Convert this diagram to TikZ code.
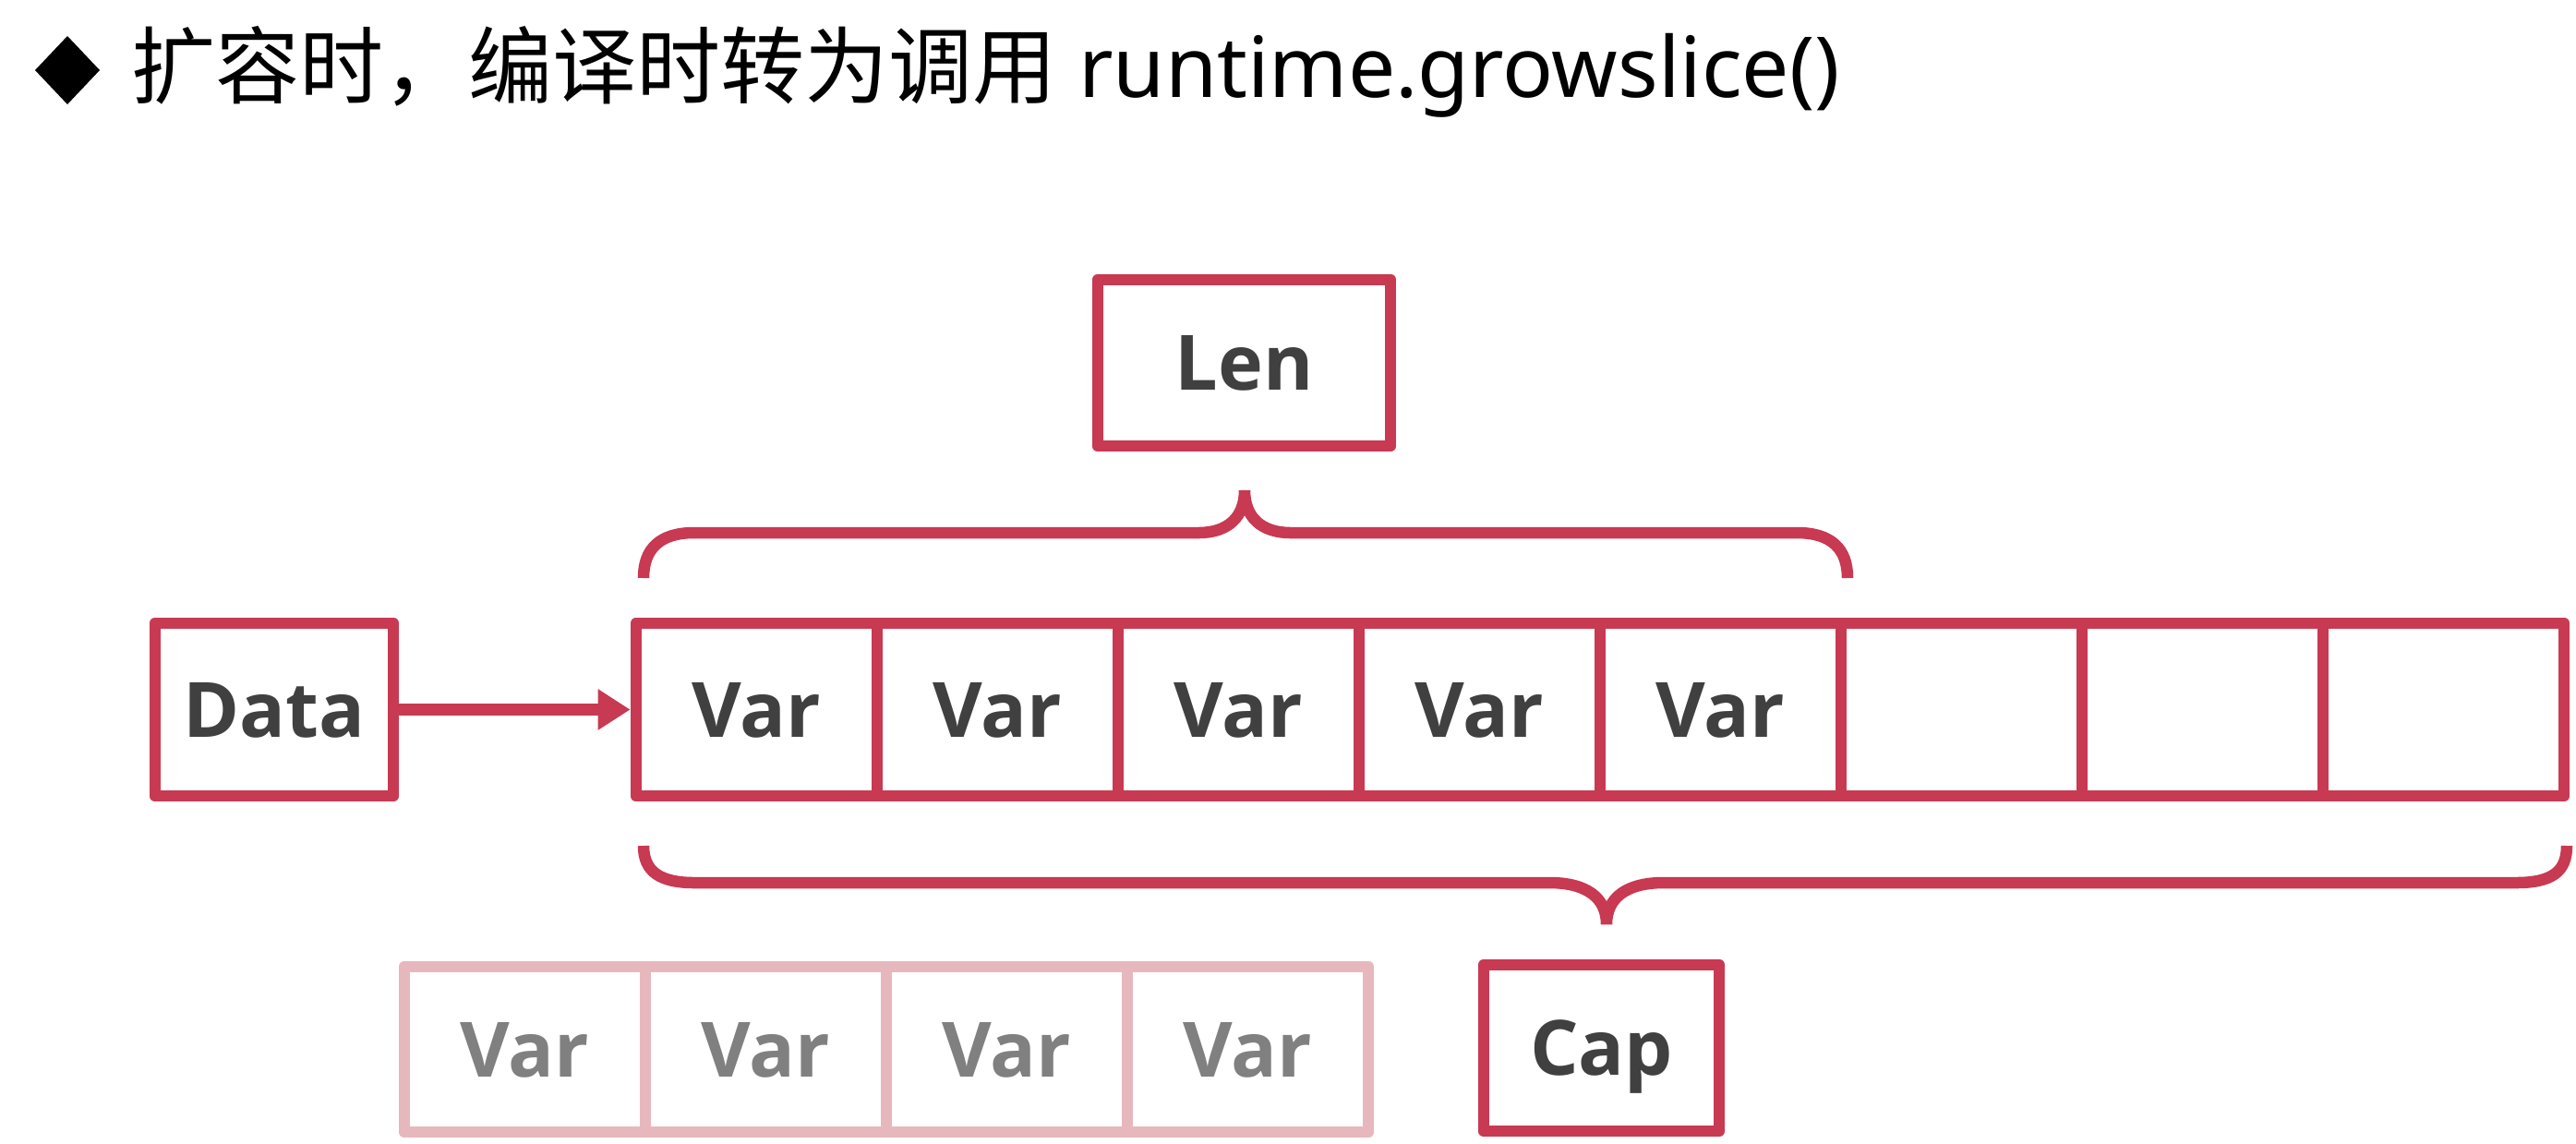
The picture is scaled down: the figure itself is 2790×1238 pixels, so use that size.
\documentclass[tikz,border=0pt]{standalone}
\usepackage{fontspec}
\setmainfont{Noto Sans}
\newfontfamily\cjk{Noto Sans CJK SC}
\newfontfamily\lblfont{Open Sans}[BoldFont={Open Sans Bold}]
\usetikzlibrary{arrows.meta}
\definecolor{crim}{RGB}{200,57,82}
\definecolor{pale}{RGB}{230,184,189}
\definecolor{ink}{RGB}{64,64,64}
\definecolor{dim}{RGB}{128,128,128}

\begin{document}
\begin{tikzpicture}[x=0.01cm,y=-0.01cm,
  box/.style={draw=crim,line width=0.125cm,line join=round,fill=white,inner sep=0pt,
    text depth=0pt,font=\lblfont\bfseries\fontsize{23.5}{23.5}\selectfont,text=ink},
  cell/.style={box,minimum width=2.61cm,minimum height=1.87cm},
  ghost/.style={box,draw=pale,text=dim,minimum width=2.61cm,minimum height=1.79cm},
  bracepath/.style={draw=crim,line width=0.125cm}]
\useasboundingbox (0,0) rectangle (2790,1238);

% heading
\fill (73,39) -- (108,76) -- (73,113) -- (38,76) -- cycle;
\node[anchor=west,inner sep=0pt,font=\fontsize{25.9}{26}\selectfont] (title) at (142,78)
  {{\cjk 扩容时，编译时转为调用} runtime.growslice()};

% slice header fields
\node[box,minimum width=2.58cm,minimum height=1.87cm] (data) at (297,768.5) {Data};
\node[box,minimum width=3.17cm,minimum height=1.80cm] (len) at (1347.5,393) {Len};
\node[box,minimum width=2.55cm,minimum height=1.80cm] (cap) at (1734.5,1135) {Cap};

% backing array after growth
\foreach \i/\t in {1/Var,2/Var,3/Var,4/Var,5/Var,6/,7/,8/}
  \node[cell] (c\i) at ({819.5+261*(\i-1)},768.5) {\t};

% old backing array
\foreach \i in {1,...,4}
  \node[ghost] (o\i) at ({568.5+261*(\i-1)},1136.5) {Var};

% pointer
\draw[crim,line width=0.125cm,-{Triangle[length=0.35cm,width=0.42cm]}] (data.east) -- (c1.west);

% len brace
\draw[bracepath] (697,626) .. controls (697,594) and (715,577) .. (752,577)
  -- (1298,577) .. controls (1330,577) and (1348,560) .. (1348,531)
  .. controls (1348,560) and (1366,577) .. (1398,577)
  -- (1946,577) .. controls (1983,577) and (2001,594) .. (2001,626);

% cap brace
\draw[bracepath] (697,916) .. controls (697,944) and (715,956) .. (752,956)
  -- (1678,956) .. controls (1718,956) and (1740,972) .. (1740,1001)
  .. controls (1740,972) and (1762,956) .. (1802,956)
  -- (2725,956) .. controls (2764,956) and (2780,944) .. (2780,916);
\end{tikzpicture}
\end{document}
